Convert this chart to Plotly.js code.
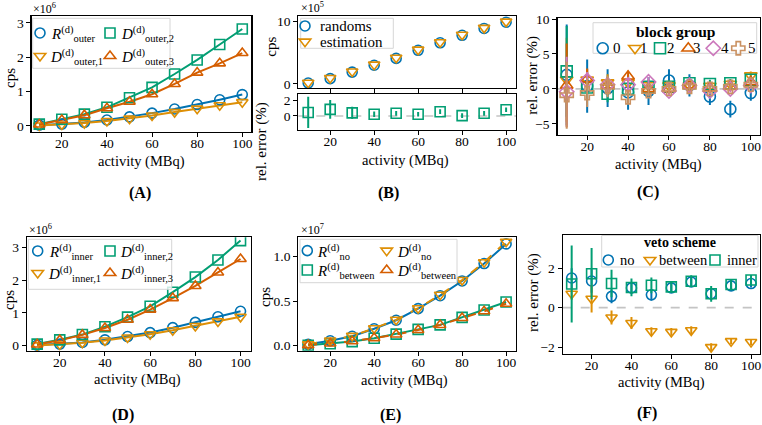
<!DOCTYPE html>
<html><head><meta charset="utf-8">
<script src="https://cdn.plot.ly/plotly-3.0.1.min.js"></script>
<style>html,body{margin:0;padding:0;background:#fff}</style>
</head><body><div id="chart" style="width:762px;height:425px"></div>
<script>
// ---------------- DATA ----------------
const activity = [10,20,30,40,50,60,70,80,90,100];
const xTickVals = [20,40,60,80,100];

// (A) outer, cps x1e6
const rOuter  = [0.02,0.05,0.10,0.17,0.26,0.37,0.49,0.62,0.76,0.91];
const dOuter1 = [0.01,0.04,0.08,0.14,0.21,0.30,0.40,0.50,0.60,0.69];
const dOuter2 = [0.05,0.19,0.34,0.54,0.82,1.12,1.51,1.92,2.37,2.82];
const dOuter3 = [0.04,0.17,0.31,0.51,0.70,0.92,1.22,1.55,1.82,2.12];
const yTicksA = [0,1,2,3];

// (B) randoms vs estimation, cps x1e5, and rel. error (%)
const randoms    = [0.15,0.85,1.9,3.0,4.1,5.4,6.6,7.8,8.9,9.9];
const estimation = [0.2,0.95,2.0,3.1,4.2,5.5,6.7,7.9,9.0,10.0];
const relErrB    = [0.45,0.85,0.4,0.22,0.34,0.22,0.55,0.04,0.34,0.8];
const relErrBErr = [2.0,1.2,0.78,0.35,0.3,0.3,0.3,0.3,0.3,0.3];
const yTicksBTop = [0,10];
const yTicksBBot = [0,2];

// (C) rel. error (%) per block group
const groupNames = ['0','1','2','3','4','5'];
const g0 = [2.0,0.4,0.1,-0.5,-0.3,1.2,0.5,-1.1,-2.9,-0.6];
const g0Err = [7.2,3.8,2.7,2.5,2.0,1.6,1.6,1.2,1.2,1.1];
const g1 = [1.3,1.3,0.9,0.9,0.5,0.5,0.5,0.4,0.7,1.9];
const g1Err = [6.0,1.5,1.2,1.0,0.8,0.7,0.6,0.6,0.6,0.6];
const g2 = [2.5,0.2,-0.7,0.0,0.3,0.3,0.8,0.7,0.8,1.3];
const g2Err = [6.5,1.5,1.2,1.0,0.8,0.7,0.6,0.6,0.6,0.6];
const g3 = [0.5,1.4,0.5,1.8,0.0,0.0,0.5,0.1,0.3,1.0];
const g3Err = [6.0,1.5,1.2,0.8,0.8,0.7,0.6,0.6,0.6,0.6];
const g4 = [-0.4,1.2,0.6,0.6,1.0,-0.3,0.5,-0.3,0.0,0.5];
const g4Err = [5.0,1.2,1.0,0.8,0.7,0.6,0.5,0.5,0.5,0.5];
const g5 = [-0.9,-0.6,0.3,-1.2,-0.3,0.0,0.3,0.0,0.3,0.6];
const g5Err = [4.8,2.0,1.5,1.0,0.8,0.7,0.6,0.6,0.5,0.5];
const yTicksC = [-5,0,5,10];

// (D) inner, cps x1e6
const rInner  = [0.02,0.05,0.10,0.18,0.28,0.40,0.55,0.71,0.88,1.05];
const dInner1 = [0.01,0.04,0.09,0.16,0.25,0.35,0.47,0.60,0.74,0.88];
const dInner2 = [0.05,0.18,0.34,0.58,0.87,1.20,1.63,2.09,2.61,3.20];
const dInner3 = [0.04,0.17,0.33,0.54,0.79,1.10,1.45,1.82,2.23,2.64];
const yTicksD = [0,1,2,3];

// (E) veto schemes, cps x1e7
const rNo      = [0.015,0.055,0.105,0.19,0.285,0.415,0.56,0.725,0.92,1.14];
const dNo      = [0.016,0.058,0.11,0.195,0.29,0.42,0.57,0.735,0.935,1.165];
const rBetween = [0.005,0.022,0.046,0.083,0.13,0.183,0.233,0.317,0.40,0.49];
const dBetween = [0.006,0.024,0.05,0.085,0.125,0.175,0.232,0.31,0.385,0.47];
const yTicksE = [0,0.5,1.0];

// (F) rel. error (%) per veto scheme
const vetoNames = ['no','between','inner'];
const fNo = [1.5,1.35,0.57,1.0,0.65,1.0,1.3,0.7,1.1,1.22];
const fNoErr = [0.5,0.6,0.35,0.3,0.3,0.25,0.25,0.3,0.2,0.2];
const fBetween = [0.7,0.45,-0.5,-0.78,-1.2,-1.23,-1.15,-2.0,-1.7,-1.74];
const fBetweenErr = [0.3,0.7,0.35,0.3,0.2,0.2,0.2,0.2,0.15,0.15];
const fInner = [1.2,1.72,1.22,1.02,1.13,1.05,1.34,0.7,1.17,1.4];
const fInnerErr = [1.95,1.3,0.7,0.45,0.4,0.3,0.3,0.4,0.25,0.25];
const yTicksF = [-2,0,2];

// ---------------- STYLE ----------------
const W = 762, H = 425;
const px = v => v / W;
const py = v => 1 - v / H;
const FONT = '"Liberation Serif", "DejaVu Serif", serif';
const COL = {blue:'#0173B2', orange:'#DE8F05', green:'#029E73', red:'#D55E00', pink:'#CC78BC', brown:'#CA9161'};
const LEG_OFF = 20;

const layout = {
  width: W, height: H, margin: {l:0, r:0, t:0, b:0, autoexpand:false},
  paper_bgcolor: '#fff', plot_bgcolor: 'rgba(0,0,0,0)',
  font: {family: FONT, size: 13, color: '#000'},
  showlegend: true, annotations: [], shapes: []
};

function xax(d, range, anchor, labels) {
  return {domain:[px(d[0]), px(d[1])], range, anchor, tickmode:'array', tickvals:xTickVals,
    showticklabels: labels !== false, ticks:'outside', ticklen:4, tickwidth:1, tickcolor:'#000',
    ticklabelstandoff:-5, ticklabeloverflow:'allow',
    showline:true, linecolor:'#000', linewidth:1.2, mirror:true, showgrid:false, zeroline:false,
    tickfont:{family:FONT, size:13.5, color:'#000'}};
}
function yax(d, range, ticks, anchor, fmt) {
  return {domain:[py(d[1]), py(d[0])], range, anchor, tickmode:'array', tickvals:ticks, tickformat: fmt || '',
    ticks:'outside', ticklen:4, tickwidth:1, tickcolor:'#000', ticklabeloverflow:'allow',
    showline:true, linecolor:'#000', linewidth:1.2, mirror:true, showgrid:false, zeroline:false,
    tickfont:{family:FONT, size:13.5, color:'#000'}};
}

layout.xaxis  = xax([31.6,251.3],[6.6,104],'y');
layout.yaxis  = yax([16,132],[-0.18,3.2],yTicksA,'x');
layout.xaxis2 = xax([298.3,516],[5.5,104.5],'y2',false);
layout.yaxis2 = yax([16,88],[-0.65,10.9],yTicksBTop,'x2');
layout.xaxis3 = xax([298.3,516],[5.5,104.5],'y3');
layout.yaxis3 = yax([94.3,130],[-1.8,2.78],yTicksBBot,'x3');
layout.xaxis4 = xax([557.5,760],[5.5,104.5],'y4');
layout.yaxis4 = yax([18.3,135],[-6.6,10.1],yTicksC,'x4');
layout.xaxis5 = xax([27,250.7],[5.5,104.5],'y5');
layout.yaxis5 = yax([237.3,351],[-0.16,3.3],yTicksD,'x5');
layout.xaxis6 = xax([298.3,516],[5.5,104.5],'y6');
layout.yaxis6 = yax([237.3,350.7],[-0.056,1.214],yTicksE,'x6','.1f');
layout.xaxis7 = xax([562.7,760],[5.5,104.5],'y7');
layout.yaxis7 = yax([235,354],[-2.35,3.68],yTicksF,'x7');

// one symbol-only legend per entry; the entry text is an annotation
let legendCount = 0;
function newLegend(mx, my) {
  legendCount++;
  const id = legendCount === 1 ? 'legend' : 'legend' + legendCount;
  layout[id] = {x: px(mx - LEG_OFF), y: py(my), xanchor:'left', yanchor:'middle',
    bgcolor:'rgba(0,0,0,0)', borderwidth:0, font:{family:FONT, size:13, color:'#000'},
    itemclick:false, itemdoubleclick:false, tracegroupgap:0};
  return id;
}

const traces = [];
function markers(ax, y, err, color, symbol, legPos, size) {
  const t = {type:'scatter', mode:'markers', x:activity, y:y, xaxis:'x'+ax, yaxis:'y'+ax, name:'',
    marker:{symbol:symbol, size:size || 10, color:color, line:{color:color, width:1.6}},
    showlegend: !!legPos, hoverinfo:'skip'};
  if (ax === '1') { t.xaxis = 'x'; t.yaxis = 'y'; }
  if (legPos) t.legend = newLegend(legPos[0], legPos[1]);
  if (err) t.error_y = {type:'data', array:err, visible:true, color:color, thickness:2, width:0};
  traces.push(t);
}
function line(ax, y, color, dash) {
  const t = {type:'scatter', mode:'lines', x:activity, y:y, xaxis:'x'+ax, yaxis:'y'+ax,
    line:{color:color, width:2, dash: dash || 'solid'}, showlegend:false, hoverinfo:'skip'};
  if (ax === '1') { t.xaxis = 'x'; t.yaxis = 'y'; }
  traces.push(t);
}
function ann(text, x, y, o) {
  layout.annotations.push(Object.assign({text, x:px(x), y:py(y), xref:'paper', yref:'paper', showarrow:false,
    font:{family:FONT, size:15, color:'#000'}, xanchor:'center', yanchor:'middle'}, o || {}));
}
function legText(text, x, y, size) {
  ann(text, x, y, {xanchor:'left', font:{family:FONT, size:size || 15, color:'#000'}});
}
// italic symbol with superscript "(d)" and subscript label
function legMath(base, sub, x, y) {
  ann('<i>' + base + '</i><sup>(d)</sup><sub>' + sub + '</sub>', x, y + 1,
      {xanchor:'left', font:{family:FONT, size:15, color:'#000'}});
}
function box(x0, y0, x1, y1) {
  layout.shapes.push({type:'rect', xref:'paper', yref:'paper', x0:px(x0), x1:px(x1), y0:py(y1), y1:py(y0),
    line:{color:'#d6d6d6', width:1}, fillcolor:'rgba(255,255,255,0.8)', layer:'above'});
}
function zeroLine(ax) {
  layout.shapes.push({type:'line', xref:'x'+ax+' domain', x0:0, x1:1, yref:'y'+ax, y0:0, y1:0,
    line:{color:'#c4c4c4', width:1.6, dash:'dash'}, layer:'below'});
}

// legend boxes
box(32.7,18.3,170,68.3);
box(300.7,18.3,393.3,48.3);
box(593,22.7,756.7,53.3);
box(28.3,239.3,171.7,289.3);
box(300,239.3,457,282.7);
box(601.7,235.5,758,267);

// (A)
line('1', rOuter, COL.blue); line('1', dOuter1, COL.orange); line('1', dOuter2, COL.green); line('1', dOuter3, COL.red);
markers('1', rOuter, null, COL.blue, 'circle-open', [40,33]);
markers('1', dOuter1, null, COL.orange, 'triangle-down-open', [40,56]);
markers('1', dOuter2, null, COL.green, 'square-open', [110,33]);
markers('1', dOuter3, null, COL.red, 'triangle-up-open', [110,56]);
legMath('R','outer',48.5,33); legMath('D','outer,1',48,56);
legMath('D','outer,2',118.5,33); legMath('D','outer,3',118.5,56);

// (B)
markers('2', randoms, null, COL.blue, 'circle-open', [305,26]);
markers('2', estimation, null, COL.orange, 'triangle-down-open', [305,41.7]);
legText('randoms',318,26); legText('estimation',318,41.7);
zeroLine('3');
markers('3', relErrB, relErrBErr, COL.green, 'square-open', null);

// (C)
zeroLine('4');
const cSeries = [[g0,g0Err,COL.blue,'circle-open'],[g1,g1Err,COL.orange,'triangle-down-open'],
  [g2,g2Err,COL.green,'square-open'],[g3,g3Err,COL.red,'triangle-up-open'],
  [g4,g4Err,COL.pink,'diamond-open'],[g5,g5Err,COL.brown,'cross-open']];
const cLegX = [602.7,635,660,688.3,713.3,738.3];
const cTextX = [616.7,644,670.7,697.3,725,751.7];
cSeries.forEach((s,i) => {
  markers('4', s[0], s[1], s[2], s[3], [cLegX[i],48.3], 11);
  ann(groupNames[i], cTextX[i], 48.3, {font:{family:FONT, size:15, color:'#000'}});
});

// (D)
line('5', rInner, COL.blue); line('5', dInner1, COL.orange); line('5', dInner2, COL.green); line('5', dInner3, COL.red);
markers('5', rInner, null, COL.blue, 'circle-open', [37.7,251]);
markers('5', dInner1, null, COL.orange, 'triangle-down-open', [37.7,273]);
markers('5', dInner2, null, COL.green, 'square-open', [110,251]);
markers('5', dInner3, null, COL.red, 'triangle-up-open', [110,273]);
legMath('R','inner',46.5,251); legMath('D','inner,1',46,273);
legMath('D','inner,2',118,251); legMath('D','inner,3',118,273);

// (E)
line('6', rNo, COL.blue); line('6', dNo, COL.orange, 'dash'); line('6', rBetween, COL.green); line('6', dBetween, COL.red, 'dash');
markers('6', rNo, null, COL.blue, 'circle-open', [307.3,250.7]);
markers('6', rBetween, null, COL.green, 'square-open', [307.3,270]);
markers('6', dNo, null, COL.orange, 'triangle-down-open', [386.7,250.7]);
markers('6', dBetween, null, COL.red, 'triangle-up-open', [386.7,270]);
legMath('R','no',315,250.7); legMath('R','between',315,270);
legMath('D','no',395,250.7); legMath('D','between',395,270);

// (F)
zeroLine('7');
markers('7', fNo, fNoErr, COL.blue, 'circle-open', [608.3,260]);
markers('7', fBetween, fBetweenErr, COL.orange, 'triangle-down-open', [650,260]);
markers('7', fInner, fInnerErr, COL.green, 'square-open', [715,260]);
legText(vetoNames[0],618,260,14.5); legText(vetoNames[1],657,260,14.5); legText(vetoNames[2],725,260,14.5);

// axis titles
const xt = 'activity (MBq)';
const tf = {font:{family:FONT,size:14.5,color:'#000'}};
ann(xt,141,161.5,tf); ann(xt,405,160,tf); ann(xt,658,164,tf);
ann(xt,137.5,379,tf); ann(xt,404.5,380.5,tf); ann(xt,661.7,382,tf);
ann('cps',10,78,{textangle:-90}); ann('cps',270.7,47,{textangle:-90});
ann('rel. error (%)',261,142,{textangle:-90});
ann('rel. error (%)',531.7,75,{textangle:-90});
ann('cps',9,300,{textangle:-90}); ann('cps',265,297,{textangle:-90});
ann('rel. error (%)',533,293,{textangle:-90});
// multipliers
const mf = {xanchor:'left', font:{family:FONT,size:12,color:'#000'}};
ann('×10<sup>6</sup>',31,9,mf); ann('×10<sup>5</sup>',299,8,mf);
ann('×10<sup>6</sup>',27,229,mf); ann('×10<sup>7</sup>',299,229,mf);
// legend titles
ann('<b>block group</b>',675,31,{font:{family:FONT,size:15.5,color:'#000'}});
ann('<b>veto scheme</b>',680,242,{font:{family:FONT,size:14,color:'#000'}});
// panel labels
const pl = {font:{family:FONT,size:16,color:'#000'}};
ann('<b>(A)</b>',140,193,pl); ann('<b>(B)</b>',388,193,pl); ann('<b>(C)</b>',648,192,pl);
ann('<b>(D)</b>',123,415,pl); ann('<b>(E)</b>',390,415,pl); ann('<b>(F)</b>',647,413,pl);

Plotly.newPlot('chart', traces, layout, {staticPlot:true, displayModeBar:false});
</script></body></html>
